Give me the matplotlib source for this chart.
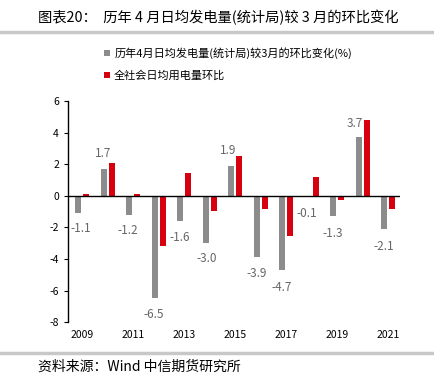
import numpy as np
import matplotlib.pyplot as plt

plt.rcParams['font.family'] = ['Noto Sans CJK SC', 'DejaVu Sans']
plt.rcParams['axes.unicode_minus'] = False

years = np.arange(2009, 2022)
gen = [-1.1, 1.7, -1.2, -6.5, -1.6, -3.0, 1.9, -3.9, -4.7, -0.1, -1.3, 3.7, -2.1]
power = [0.1, 2.1, 0.1, -3.15, 1.45, -0.95, 2.55, -0.85, -2.55, 1.2, -0.25, 4.8, -0.85]
# label positions (data coords) as placed in the original
lab_x = [2008.95, 2009.82, 2010.8, 2011.82, 2012.84, 2013.9, 2014.73,
         2015.86, 2016.84, 2017.82, 2018.84, 2019.7, 2020.84]
lab_y = [-2.1, 2.66, -2.2, -7.5, -2.65, -4.0, 2.85, -4.95, -5.8, -1.15, -2.4, 4.56, -3.2]

gray = '#8c8c8c'
red = '#d7000f'

fig = plt.figure(figsize=(4.34, 3.79), dpi=100)
ax = fig.add_axes([0.157, 0.150, 0.765, 0.5835])

w = 0.24
ax.bar(years - 0.16, gen, w, color=gray, label='历年4月日均发电量(统计局)较3月的环比变化(%)')
ax.bar(years + 0.16, power, w, color=red, label='全社会日均用电量环比')
ax.axhline(0, color='black', lw=1)

for x, y, v in zip(lab_x, lab_y, gen):
    ax.text(x, y, f'{v:.1f}', ha='center', va='center', fontsize=8.5, color='#666666')

ax.set_xlim(2008.45, 2021.47)
ax.set_ylim(-8, 6)
ax.set_yticks(range(-8, 7, 2))
ax.set_xticks(range(2009, 2022, 2))
ax.tick_params(axis='x', length=0, labelsize=7.5, pad=6)
ax.tick_params(axis='y', length=3, labelsize=7.5)
for s in ['top', 'right', 'bottom']:
    ax.spines[s].set_visible(False)
ax.spines['left'].set_linewidth(1)

ax.legend(loc='upper left', bbox_to_anchor=(0.24, 0.875), bbox_transform=fig.transFigure,
          frameon=False, fontsize=8, borderaxespad=0, borderpad=0,
          handlelength=0.5, handleheight=0.5, handletextpad=0.4, labelspacing=1.0)

fig.text(0.088, 0.955, '图表20：  历年 4 月日均发电量(统计局)较 3 月的环比变化', fontsize=10.3, va='center')
fig.add_artist(plt.Line2D([0, 1], [0.916, 0.916], color='#c8c8c8', lw=2.5))
fig.add_artist(plt.Line2D([0, 1], [0.069, 0.069], color='#c8c8c8', lw=2.5))
fig.text(0.088, 0.032, '资料来源：Wind 中信期货研究所', fontsize=10, va='center')

fig.savefig('out.png', dpi=100)
